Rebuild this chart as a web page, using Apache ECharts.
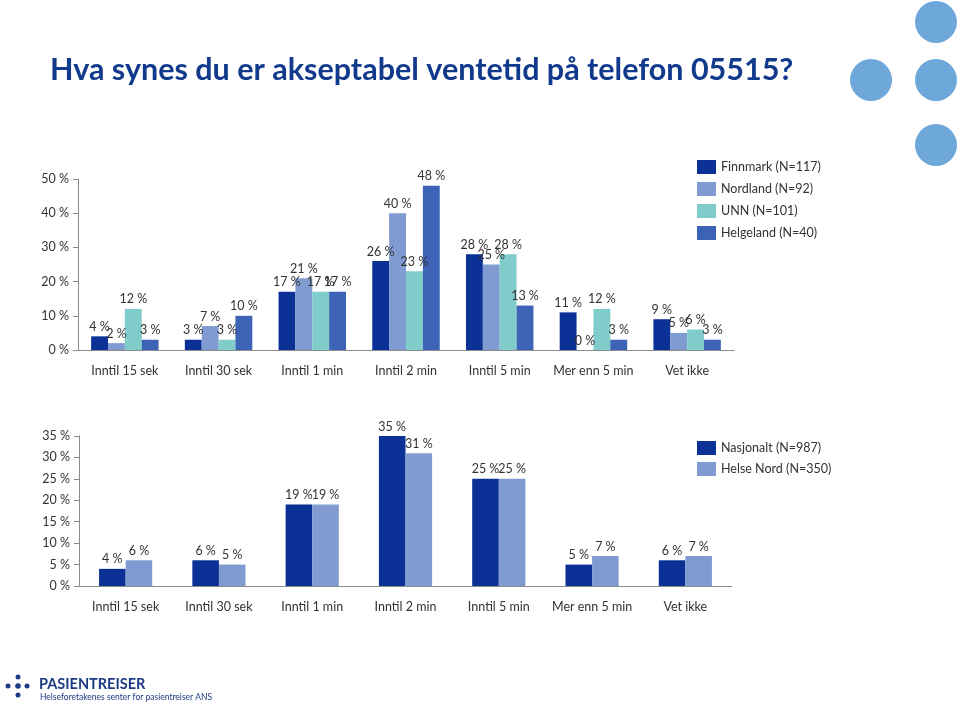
<!DOCTYPE html>
<html>
<head>
<meta charset="utf-8">
<script src="https://cdn.jsdelivr.net/npm/echarts@6/dist/echarts.min.js"></script>
<style>html,body{margin:0;padding:0;background:#fff}#c{width:960px;height:712px}</style>
</head>
<body>
<div id="c"></div>
<script>
const categories = ['Inntil 15 sek', 'Inntil 30 sek', 'Inntil 1 min', 'Inntil 2 min', 'Inntil 5 min', 'Mer enn 5 min', 'Vet ikke'];
const finnmark = [4, 3, 17, 26, 28, 11, 9];
const nordland = [2, 7, 21, 40, 25, 0, 5];
const unn = [12, 3, 17, 23, 28, 12, 6];
const helgeland = [3, 10, 17, 48, 13, 3, 3];
const nasjonalt = [4, 6, 19, 35, 25, 5, 6];
const helseNord = [6, 5, 19, 31, 25, 7, 7];
const topNames = ['Finnmark (N=117)', 'Nordland (N=92)', 'UNN (N=101)', 'Helgeland (N=40)'];
const bottomNames = ['Nasjonalt (N=987)', 'Helse Nord (N=350)'];
const title = 'Hva synes du er akseptabel ventetid på telefon 05515?';

const FONT = 'Lato';
const colors = ['#0B3196', '#7F9BD2', '#7FCCCB', '#3C63B5'];
const axisCol = '#8c8c8c';
const txt = '#333';

function bar(name, data, color, xi, gap) {
  return {
    type: 'bar', name: name, data: data, xAxisIndex: xi, yAxisIndex: xi,
    barGap: '0%', barCategoryGap: gap,
    itemStyle: { color: color },
    label: { show: true, position: 'top', distance: 3, formatter: '{c} %',
      fontFamily: FONT, fontSize: 12.5, color: txt },
    emphasis: { disabled: true }
  };
}
function xAx(gi) {
  return { type: 'category', gridIndex: gi, data: categories,
    axisLine: { lineStyle: { color: axisCol } },
    axisTick: { length: 5, lineStyle: { color: axisCol } },
    axisLabel: { interval: 0, fontFamily: FONT, fontSize: 12.5, color: txt, margin: 14 } };
}
function yAx(gi, max, interval) {
  return { type: 'value', gridIndex: gi, min: 0, max: max, interval: interval,
    splitLine: { show: false },
    axisLine: { show: true, lineStyle: { color: axisCol } },
    axisTick: { show: true, length: 5, lineStyle: { color: axisCol } },
    axisLabel: { formatter: '{value} %', fontFamily: FONT, fontSize: 12.5, color: txt, margin: 9 } };
}

const chart = echarts.init(document.getElementById('c'));
chart.setOption({
  animation: false,
  color: colors,
  grid: [
    { left: 78, top: 179, width: 656, height: 171 },
    { left: 79, top: 436, width: 653, height: 150 }
  ],
  xAxis: [xAx(0), xAx(1)],
  yAxis: [yAx(0, 50, 10), yAx(1, 35, 5)],
  legend: [
    { data: topNames, orient: 'vertical', left: 692, top: 155, itemWidth: 19, itemHeight: 14, itemGap: 8,
      icon: 'rect', textStyle: { fontFamily: FONT, fontSize: 12.5, color: txt }, selectedMode: false },
    { data: bottomNames, orient: 'vertical', left: 692, top: 436, itemWidth: 19, itemHeight: 14, itemGap: 7,
      icon: 'rect', textStyle: { fontFamily: FONT, fontSize: 12.5, color: txt }, selectedMode: false }
  ],
  series: [
    bar(topNames[0], finnmark, colors[0], 0, '28%'),
    bar(topNames[1], nordland, colors[1], 0, '28%'),
    bar(topNames[2], unn, colors[2], 0, '28%'),
    bar(topNames[3], helgeland, colors[3], 0, '28%'),
    bar(bottomNames[0], nasjonalt, colors[0], 1, '43%'),
    bar(bottomNames[1], helseNord, colors[1], 1, '43%')
  ],
  graphic: [
    { type: 'text', left: 50, top: 55, style: { text: title, fontFamily: FONT, fontWeight: 'bold', fontSize: 30.5, fill: '#123A8C' } },
    { type: 'circle', shape: { cx: 936, cy: 22, r: 21 }, style: { fill: '#6EA7DA' } },
    { type: 'circle', shape: { cx: 871, cy: 80, r: 21 }, style: { fill: '#6EA7DA' } },
    { type: 'circle', shape: { cx: 936, cy: 80, r: 21 }, style: { fill: '#6EA7DA' } },
    { type: 'circle', shape: { cx: 936, cy: 145, r: 21 }, style: { fill: '#6EA7DA' } },
    { type: 'circle', shape: { cx: 18, cy: 677, r: 2.5 }, style: { fill: '#1D3A84' } },
    { type: 'circle', shape: { cx: 8, cy: 686, r: 2.5 }, style: { fill: '#1D3A84' } },
    { type: 'circle', shape: { cx: 18, cy: 686, r: 2.8 }, style: { fill: '#1D3A84' } },
    { type: 'circle', shape: { cx: 27, cy: 686, r: 2.5 }, style: { fill: '#1D3A84' } },
    { type: 'circle', shape: { cx: 18, cy: 695, r: 2.5 }, style: { fill: '#1D3A84' } },
    { type: 'text', left: 39, top: 677, style: { text: 'PASIENTREISER', fontFamily: FONT, fontWeight: 'bold', fontSize: 14.5, fill: '#1D3A84' } },
    { type: 'text', left: 40, top: 693, style: { text: 'Helseforetakenes senter for pasientreiser ANS', fontFamily: FONT, fontSize: 8.5, fill: '#1D3A84' } }
  ]
});
</script>
</body>
</html>
